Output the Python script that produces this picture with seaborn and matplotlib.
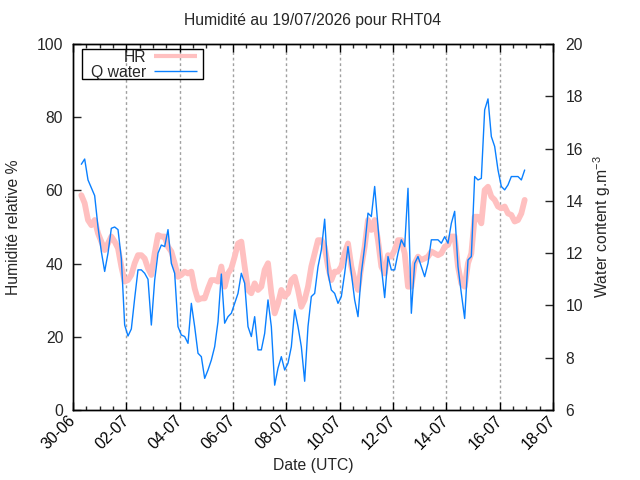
import pandas as pd
import numpy as np
import matplotlib
matplotlib.use("Agg")
import matplotlib.pyplot as plt
import matplotlib.dates as mdates
from matplotlib.ticker import FixedLocator
from matplotlib.lines import Line2D
from matplotlib.patches import Rectangle
import seaborn as sns

# ---------------- data (3 h steps) ----------------
start = "2026-06-30 07:30"

hr = [
    # 30-06 .. 02-07
    58.7, 56.5, 51.9, 50.5, 51.9, 48.3, 46.0, 43.7, 45.5, 47.4, 46.0, 44.2,
    39.2, 35.1, 35.5, 36.9, 40.1, 42.3, 42.3, 41.4, 38.7, 36.9,
    # 03-07 .. 05-07
    42.8, 47.8, 47.4, 47.4, 44.6, 43.3, 40.1, 36.4, 36.9, 37.8, 37.3, 37.8,
    33.2, 30.1, 30.5, 30.5, 33.2, 35.5, 35.5, 35.1, 39.2, 33.7, 37.3, 38.7,
    # 06-07 .. 08-07
    41.9, 45.5, 46.0, 39.2, 32.8, 31.9, 34.6, 32.8, 33.7, 38.3, 40.1, 31.9,
    26.4, 29.1, 32.8, 31.0, 31.9, 35.5, 36.4, 32.8, 28.2, 30.1, 33.7, 39.2,
    # 09-07 .. 11-07
    42.8, 46.4, 46.4, 44.6, 39.2, 35.5, 37.8, 37.8, 39.2, 42.8, 45.5, 39.2,
    35.5, 32.8, 39.2, 44.6, 51.9, 49.2, 51.9, 46.4, 39.2, 37.3, 42.3, 41.9,
    # 12-07 .. 14-07
    43.7, 46.4, 46.4, 42.8, 33.7, 33.7, 40.1, 41.9, 41.0, 41.4, 41.9, 43.3,
    42.8, 42.3, 42.8, 44.6, 45.1, 47.4, 47.4, 39.2, 34.6, 33.7, 40.1, 42.8,
    # 15-07 .. 17-07
    52.8, 52.8, 51.0, 60.1, 61.0, 58.3, 57.4, 55.6, 55.1, 55.6, 53.7, 53.3,
    51.5, 51.9, 53.7, 57.4,
]

q_water = [
    15.4, 15.6, 14.8, 14.5, 14.2, 13.0, 12.06, 11.3, 12.0, 12.95, 13.0, 12.9,
    11.8, 9.25, 8.83, 9.1, 10.27, 11.36, 11.36, 11.23, 11.0, 9.25,
    10.97, 12.0, 12.31, 12.25, 12.9, 11.61, 11.23, 9.19, 8.87, 8.81, 8.55, 10.08,
    9.19, 8.17, 8.04, 7.21, 7.53, 7.91, 8.42, 9.38, 11.2, 9.32, 9.57, 9.70,
    10.08, 10.46, 11.23, 10.85, 9.19, 8.81, 9.57, 8.30, 8.30, 8.93, 10.21, 9.19,
    6.95, 7.6, 8.04, 7.53, 7.79, 8.42, 9.83, 9.19, 8.42, 7.1, 9.19, 10.34,
    10.46, 11.48, 12.12, 13.3, 11.23, 10.59, 10.46, 10.08, 10.34, 11.23, 12.25, 11.23,
    10.21, 9.57, 11.23, 12.25, 13.53, 13.40, 14.55, 13.02, 11.48, 10.3, 11.87, 11.36,
    11.36, 12.0, 12.51, 12.25, 14.48, 9.70, 11.61, 11.87, 11.48, 11.10, 11.61, 12.51,
    12.51, 12.51, 12.38, 12.63, 12.38, 13.14, 13.6, 11.48, 10.46, 9.5, 11.74, 11.87,
    14.93, 14.80, 14.86, 17.48, 17.9, 16.46, 16.08, 15.18, 14.55, 14.42, 14.61, 14.93,
    14.93, 14.93, 14.80, 15.18,
]

times = pd.date_range(start, periods=len(hr), freq="3h")
df = pd.DataFrame({"time": times, "HR": hr, "Q": q_water})

major_days = pd.date_range("2026-06-30", "2026-07-18", freq="2D")

# ---------------- style ----------------
sns.set_style("white")
plt.rcParams["font.family"] = ["Liberation Sans", "DejaVu Sans"]
plt.rcParams["mathtext.fontset"] = "custom"
plt.rcParams["mathtext.rm"] = "Liberation Sans"
fs = 11.3

pink = "#ffc0c0"
blue = "#0a80ff"

fig = plt.figure(figsize=(6.4, 4.8), dpi=100)
ax = fig.add_axes([73 / 640, 1 - 410 / 480, 480 / 640, 366 / 480])
ax2 = ax.twinx()

sns.lineplot(data=df, x="time", y="HR", ax=ax, color=pink, linewidth=4.2,
             legend=False)
sns.lineplot(data=df, x="time", y="Q", ax=ax2, color=blue, linewidth=1.0,
             legend=False)

ax.set_xlim(pd.Timestamp("2026-06-30"), pd.Timestamp("2026-07-18"))
ax.set_ylim(0, 100)
ax2.set_ylim(6, 20)

ax.xaxis.set_major_locator(FixedLocator(mdates.date2num(major_days)))
ax.xaxis.set_minor_locator(mdates.HourLocator(byhour=[0, 12]))
ax.xaxis.set_major_formatter(mdates.DateFormatter("%d-%m"))
ax.set_yticks([0, 20, 40, 60, 80, 100])
ax2.set_yticks([6, 8, 10, 12, 14, 16, 18, 20])

ax.grid(False)
ax2.grid(False)
for d in major_days[1:-1]:
    ax.axvline(d, color="#a0a0a0", linestyle=(0, (2, 2)), linewidth=1.0, zorder=0)

ax.tick_params(axis="x", which="major", direction="in", length=6, width=1,
               top=True, bottom=True, labelsize=fs, pad=6, colors="black")
ax.tick_params(axis="x", which="minor", direction="in", length=3, width=1,
               top=True, bottom=True)
ax.tick_params(axis="y", direction="in", length=6, width=1, left=True,
               right=False, labelsize=fs, pad=7)
ax2.tick_params(axis="y", direction="in", length=6, width=1, right=True,
                labelsize=fs, pad=9)

for lab in ax.get_xticklabels():
    lab.set_rotation(45)
    lab.set_ha("right")
    lab.set_va("center")
    lab.set_rotation_mode("anchor")

for a in (ax, ax2):
    for s in a.spines.values():
        s.set_color("black")
        s.set_linewidth(1.0)

ax.set_xlabel("Date (UTC)", fontsize=fs, labelpad=4)
ax.set_ylabel("Humidité relative %", fontsize=fs, labelpad=11)
ax2.set_ylabel("Water content g.m$^{-3}$", fontsize=fs, labelpad=6)
ax.set_title("Humidité au 19/07/2026 pour RHT04", fontsize=fs, pad=14)

# legend: gnuplot style, text before the sample, square black box
handles = [Line2D([], [], color=pink, linewidth=3.0, solid_capstyle="butt"),
           Line2D([], [], color=blue, linewidth=1.0, solid_capstyle="butt")]
leg = ax2.legend(handles, ["HR", "Q water"], loc="upper right",
                 bbox_to_anchor=(197 / 640, 1 - 49.5 / 480),
                 bbox_transform=fig.transFigure, borderaxespad=0,
                 markerfirst=False, fontsize=fs, frameon=False,
                 labelspacing=0.0, borderpad=0, handlelength=2.75,
                 handletextpad=0.5)
ax2.add_artist(Rectangle((82 / 640, 1 - 79 / 480), 121 / 640, 30 / 480,
                         transform=fig.transFigure, fill=False,
                         edgecolor="black", linewidth=1.0, zorder=5))

fig.savefig("out.png", dpi=100)
